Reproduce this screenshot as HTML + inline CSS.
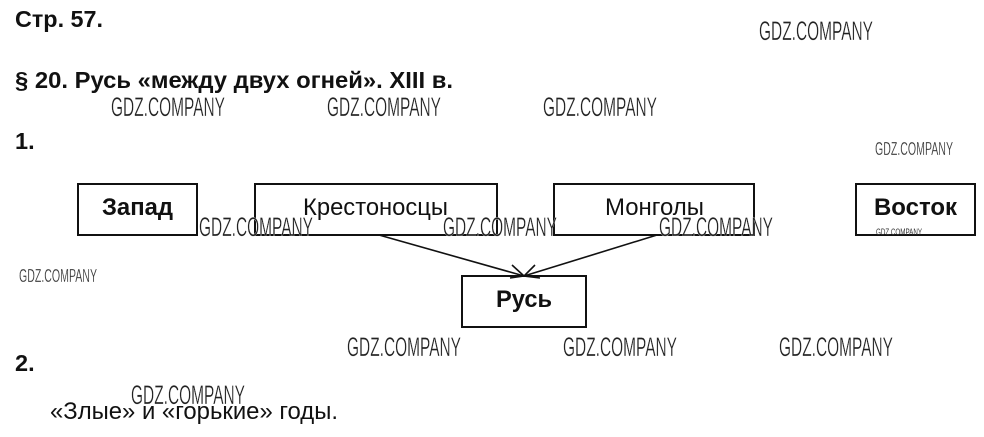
<!DOCTYPE html>
<html lang="ru">
<head>
<meta charset="utf-8">
<title>Стр. 57</title>
<style>
html,body{margin:0;padding:0;background:#fff;width:984px;height:437px;overflow:hidden}
svg{display:block}
text{font-family:"Liberation Sans",Arial,sans-serif;fill:#111}
.b{font-weight:bold}
.w{fill:#222;font-size:27px;stroke:#fff;stroke-width:.3px}
.s{fill:#333;font-size:18px;stroke:#fff;stroke-width:.2px}
</style>
</head>
<body>
<svg width="984" height="437" viewBox="0 0 984 437" xmlns="http://www.w3.org/2000/svg">
<rect width="984" height="437" fill="#fff"/>
<text class="b" x="15" y="27" font-size="23.500" textLength="88" lengthAdjust="spacingAndGlyphs">Стр. 57.</text>
<text class="b" x="15" y="88" font-size="23.500" textLength="438" lengthAdjust="spacingAndGlyphs">§ 20. Русь «между двух огней». XIII в.</text>
<text class="b" x="15" y="149" font-size="23.500">1.</text>
<text class="b" x="15" y="371" font-size="23.500">2.</text>
<text x="50" y="419" font-size="24" textLength="288" lengthAdjust="spacingAndGlyphs">«Злые» и «горькие» годы.</text>

<g fill="none" stroke="#111" stroke-width="2">
<rect x="78" y="184" width="119" height="51"/>
<rect x="255" y="184" width="242" height="51"/>
<rect x="554" y="184" width="200" height="51"/>
<rect x="856" y="184" width="119" height="51"/>
<rect x="462" y="276" width="124" height="51"/>
</g>
<g fill="none" stroke="#111" stroke-width="1.600">
<path d="M379 235L524 276"/>
<path d="M657 235L524 276"/>
<path d="M512 265L524 276L510 278"/>
<path d="M535 265L524 276L540 278"/>
</g>

<text class="b" x="102" y="215" font-size="24" textLength="71" lengthAdjust="spacingAndGlyphs">Запад</text>
<text x="303" y="215" font-size="24" textLength="145" lengthAdjust="spacingAndGlyphs">Крестоносцы</text>
<text x="605" y="215" font-size="24" textLength="99" lengthAdjust="spacingAndGlyphs">Монголы</text>
<text class="b" x="874" y="215" font-size="24" textLength="83" lengthAdjust="spacingAndGlyphs">Восток</text>
<text class="b" x="496" y="307" font-size="24" textLength="56" lengthAdjust="spacingAndGlyphs">Русь</text>

<g>
<text class="w" x="759" y="40" textLength="114" lengthAdjust="spacingAndGlyphs">GDZ.COMPANY</text>
<text class="w" x="111" y="116" textLength="114" lengthAdjust="spacingAndGlyphs">GDZ.COMPANY</text>
<text class="w" x="327" y="116" textLength="114" lengthAdjust="spacingAndGlyphs">GDZ.COMPANY</text>
<text class="w" x="543" y="116" textLength="114" lengthAdjust="spacingAndGlyphs">GDZ.COMPANY</text>
<text class="w" x="199" y="236" textLength="114" lengthAdjust="spacingAndGlyphs">GDZ.COMPANY</text>
<text class="w" x="443" y="236" textLength="114" lengthAdjust="spacingAndGlyphs">GDZ.COMPANY</text>
<text class="w" x="659" y="236" textLength="114" lengthAdjust="spacingAndGlyphs">GDZ.COMPANY</text>
<text class="w" x="347" y="356" textLength="114" lengthAdjust="spacingAndGlyphs">GDZ.COMPANY</text>
<text class="w" x="563" y="356" textLength="114" lengthAdjust="spacingAndGlyphs">GDZ.COMPANY</text>
<text class="w" x="779" y="356" textLength="114" lengthAdjust="spacingAndGlyphs">GDZ.COMPANY</text>
<text class="w" x="131" y="404" textLength="114" lengthAdjust="spacingAndGlyphs">GDZ.COMPANY</text>
<text class="s" x="875" y="155" textLength="78" lengthAdjust="spacingAndGlyphs">GDZ.COMPANY</text>
<text class="s" x="19" y="282" textLength="78" lengthAdjust="spacingAndGlyphs">GDZ.COMPANY</text>
<text class="s" style="font-size:9px;stroke:none" x="876" y="235" textLength="46" lengthAdjust="spacingAndGlyphs">GDZ.COMPANY</text>
</g>
</svg>
</body>
</html>
